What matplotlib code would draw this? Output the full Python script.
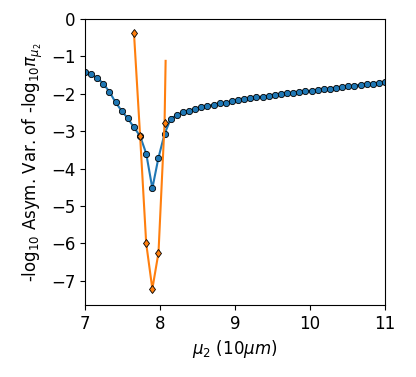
import numpy as np
import matplotlib.pyplot as plt

# ---------------- Data ----------------

mu2 = np.linspace(7, 11, 50)
blue_vals = [-1.43, -1.48, -1.58, -1.73, -1.95, -2.23, -2.46, -2.66, -2.90, -3.13,
             -3.60, -4.53, -3.71, -3.07, -2.67, -2.57, -2.50, -2.45, -2.41, -2.36,
             -2.33, -2.29, -2.26, -2.24, -2.20, -2.17, -2.15, -2.12, -2.09, -2.08,
             -2.05, -2.02, -2.01, -1.99, -1.97, -1.95, -1.93, -1.92, -1.90, -1.88,
             -1.86, -1.84, -1.83, -1.80, -1.78, -1.76, -1.75, -1.73, -1.71, -1.69]

orange_idx = [8, 9, 10, 11, 12, 13]
orange_vals = [-0.37, -3.13, -6.00, -7.22, -6.25, -2.77]

# orange curve (ends just past the last marker)
orange_curve_x = [7.653, 7.735, 7.816, 7.898, 7.980, 8.061, 8.075]
orange_curve_y = [-0.37, -3.13, -6.00, -7.22, -6.25, -2.77, -1.12]

# ---------------- Plot ----------------

fig = plt.figure(figsize=(4.16, 3.77), dpi=100)
ax = fig.add_axes([0.2043, 0.191, 0.7212, 0.7586])

ax.plot(mu2, blue_vals, color="tab:blue", lw=1.5, marker="o", ms=4.5,
        mec="black", mew=0.6, zorder=2)
ax.plot(orange_curve_x, orange_curve_y, color="tab:orange", lw=1.5, zorder=3)
ax.plot(mu2[orange_idx], orange_vals, ls="none", marker="d", ms=4.5,
        color="tab:orange", mec="black", mew=0.6, zorder=4)

ax.set_xlim(7, 11)
ax.set_ylim(-7.65, 0)
ax.set_xticks([7, 8, 9, 10, 11])
ax.set_yticks([0, -1, -2, -3, -4, -5, -6, -7])
ax.tick_params(labelsize=12)
ax.set_xlabel(r"$\mu_2$ (10$\mu m$)", fontsize=12)
ax.set_ylabel(r"-log$_{10}$ Asym. Var. of -log$_{10}\pi_{\mu_2}$", fontsize=12)

plt.savefig("out.png", dpi=100)
